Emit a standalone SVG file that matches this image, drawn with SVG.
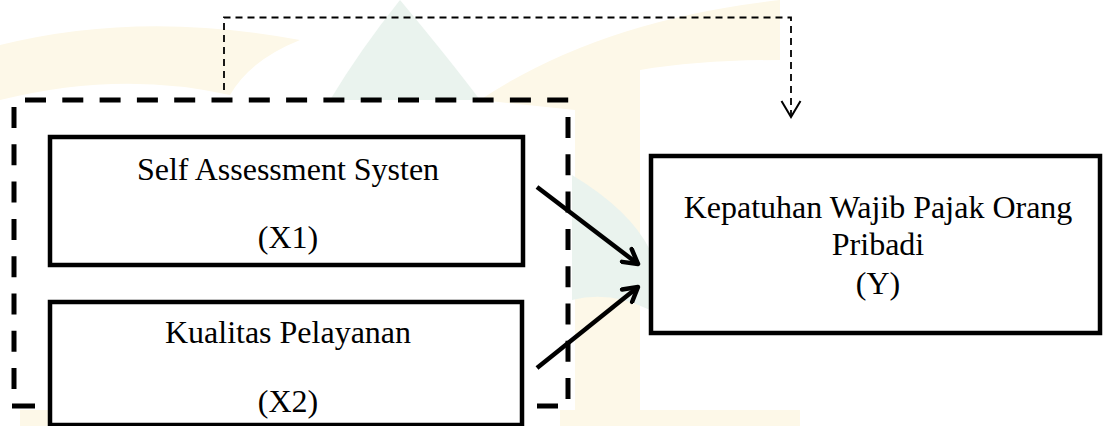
<svg xmlns="http://www.w3.org/2000/svg" width="1106" height="426" viewBox="0 0 1106 426">
<defs>
<style>
.box{fill:#fff;stroke:#000;stroke-width:4.5}
.t{font-family:"Liberation Serif","Times New Roman",serif;font-size:32px;fill:#000;text-anchor:middle}
.big{fill:none;stroke:#000;stroke-width:5;stroke-dasharray:21 16.3}
.thin{fill:none;stroke:#000;stroke-width:1.8;stroke-dasharray:7 5}
.arr{fill:none;stroke:#000;stroke-width:4.5}
.wy{fill:#fdf8e8}
.wg{fill:#eaf3ee}
</style>
<marker id="ah" viewBox="0 0 20 20" refX="17" refY="10" markerWidth="20" markerHeight="20" markerUnits="userSpaceOnUse" orient="auto">
<path d="M3,2 L17,10 L3,18" fill="none" stroke="#000" stroke-width="4.5" stroke-linecap="round" stroke-linejoin="round"/>
</marker>
<marker id="oh" viewBox="0 0 24 24" refX="20" refY="12" markerWidth="24" markerHeight="24" markerUnits="userSpaceOnUse" orient="auto">
<path d="M4,2.5 L20,12 L4,21.5" fill="none" stroke="#000" stroke-width="2"/>
</marker>
</defs>
<rect width="1106" height="426" fill="#fff"/>
<g id="watermark">
<path class="wy" d="M0,45 Q140,10 300,40 Q250,60 230,95 Q120,70 0,100 Z"/>
<path class="wg" d="M400,0 Q450,60 480,100 L330,100 Q360,50 400,0 Z"/>
<path class="wy" d="M480,100 Q600,20 780,0 L780,60 Q700,60 640,70 L640,426 L575,426 L575,110 Z"/>
<path class="wg" d="M572,175 Q630,210 650,250 L650,310 Q610,290 572,300 Z"/>
<path class="wy" d="M560,410 L800,410 L800,426 L560,426 Z"/>
<path class="wy" d="M20,410 L50,410 L50,426 L20,426 Z"/>
</g>
<g id="group-frame">
<path class="big" d="M25,100 H570"/>
<path class="big" d="M14,107 V402"/>
<path class="big" d="M568,117 V402"/>
<path fill="none" stroke="#000" stroke-width="5" d="M12,406 H35 M537,406 H558"/>
</g>
<g id="connectors">
<path class="thin" d="M224,90 V17.5 H791 V117" marker-end="url(#oh)"/>
</g>
<g id="node-x1">
<rect class="box" x="50" y="137" width="473" height="128"/>
<text class="t" x="288" y="180">Self Assessment Systen</text>
<text class="t" x="288" y="248">(X1)</text>
</g>
<g id="node-x2">
<rect class="box" x="50" y="302" width="472" height="123"/>
<text class="t" x="288" y="343">Kualitas Pelayanan</text>
<text class="t" x="288" y="412">(X2)</text>
</g>
<g id="node-y">
<rect class="box" x="651" y="156" width="449" height="177"/>
<text class="t" x="878" y="218">Kepatuhan Wajib Pajak Orang</text>
<text class="t" x="878" y="255">Pribadi</text>
<text class="t" x="878" y="294">(Y)</text>
</g>
<g id="arrows">
<path class="arr" d="M537,187 L638,264" marker-end="url(#ah)"/>
<path class="arr" d="M537,368 L638,287" marker-end="url(#ah)"/>
</g>
</svg>
